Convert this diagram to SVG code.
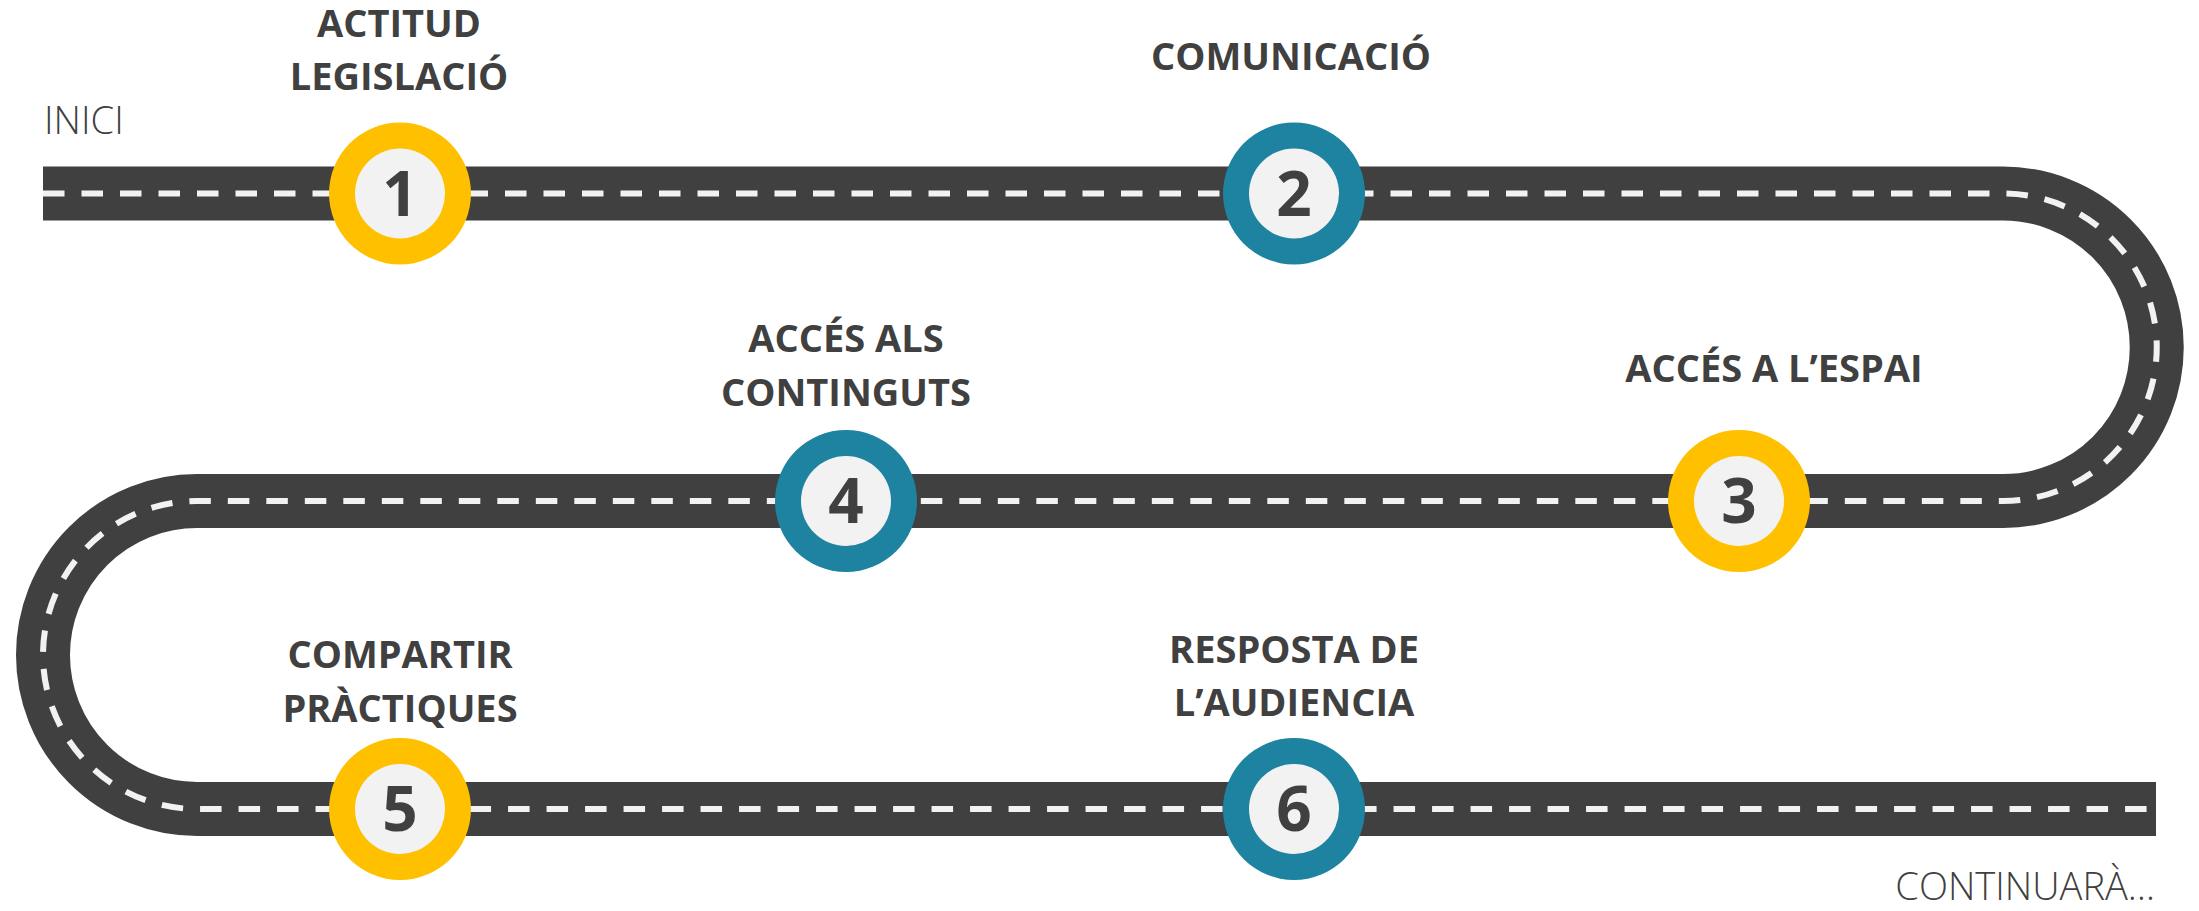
<svg xmlns="http://www.w3.org/2000/svg" width="2199" height="911" viewBox="0 0 2199 911">
<style>
.road{fill:none;stroke:#404040;stroke-width:54}
.lane{fill:none;stroke:#F2F2F2;stroke-width:6;stroke-dasharray:21.5 17}
.ring-y{fill:#FFC000}
.ring-b{fill:#1D83A0}
.core{fill:#F2F2F2}
.num{font-family:"Open Sans","Liberation Sans",sans-serif;font-weight:700;font-size:62px;fill:#404040;text-anchor:middle}
.lbl{font-family:"Open Sans","Liberation Sans",sans-serif;font-weight:700;font-size:38px;fill:#404040;text-anchor:middle}
.note{font-family:"Open Sans","Liberation Sans",sans-serif;font-weight:300;font-size:38px;fill:#404040}
</style>
<rect width="2199" height="911" fill="#FFFFFF"/>
<g id="connectors">
<path class="road" d="M43 193.5 H2003 A153.75 153.75 0 0 1 2003 501 H197 A154 154 0 0 0 197 809 H2156"/>
<path class="lane" d="M43 193.5 H2003 A153.75 153.75 0 0 1 2003 501 H197 A154 154 0 0 0 197 809 H2156"/>
</g>
<g id="start"><text class="note" x="44" y="134">INICI</text></g>
<g id="end"><text class="note" x="2155" y="900" text-anchor="end">CONTINUARÀ…</text></g>
<g id="node1">
<circle class="ring-y" cx="400" cy="193.5" r="71"/><circle class="core" cx="400" cy="193.5" r="45"/>
<text class="num" x="400" y="216">1</text>
<text class="lbl" x="399" y="37">ACTITUD</text>
<text class="lbl" x="399" y="90">LEGISLACIÓ</text>
</g>
<g id="node2">
<circle class="ring-b" cx="1294" cy="193.5" r="71"/><circle class="core" cx="1294" cy="193.5" r="45"/>
<text class="num" x="1294" y="216">2</text>
<text class="lbl" x="1291" y="70">COMUNICACIÓ</text>
</g>
<g id="node3">
<circle class="ring-y" cx="1739" cy="501" r="71"/><circle class="core" cx="1739" cy="501" r="45"/>
<text class="num" x="1739" y="523">3</text>
<text class="lbl" x="1774" y="382">ACCÉS A L’ESPAI</text>
</g>
<g id="node4">
<circle class="ring-b" cx="846" cy="501" r="71"/><circle class="core" cx="846" cy="501" r="45"/>
<text class="num" x="846" y="523">4</text>
<text class="lbl" x="846" y="352">ACCÉS ALS</text>
<text class="lbl" x="846" y="406">CONTINGUTS</text>
</g>
<g id="node5">
<circle class="ring-y" cx="400" cy="809" r="71"/><circle class="core" cx="400" cy="809" r="45"/>
<text class="num" x="400" y="831">5</text>
<text class="lbl" x="400" y="668">COMPARTIR</text>
<text class="lbl" x="400" y="722">PRÀCTIQUES</text>
</g>
<g id="node6">
<circle class="ring-b" cx="1294" cy="809" r="71"/><circle class="core" cx="1294" cy="809" r="45"/>
<text class="num" x="1294" y="831">6</text>
<text class="lbl" x="1294" y="663">RESPOSTA DE</text>
<text class="lbl" x="1294" y="716">L’AUDIENCIA</text>
</g>
</svg>
